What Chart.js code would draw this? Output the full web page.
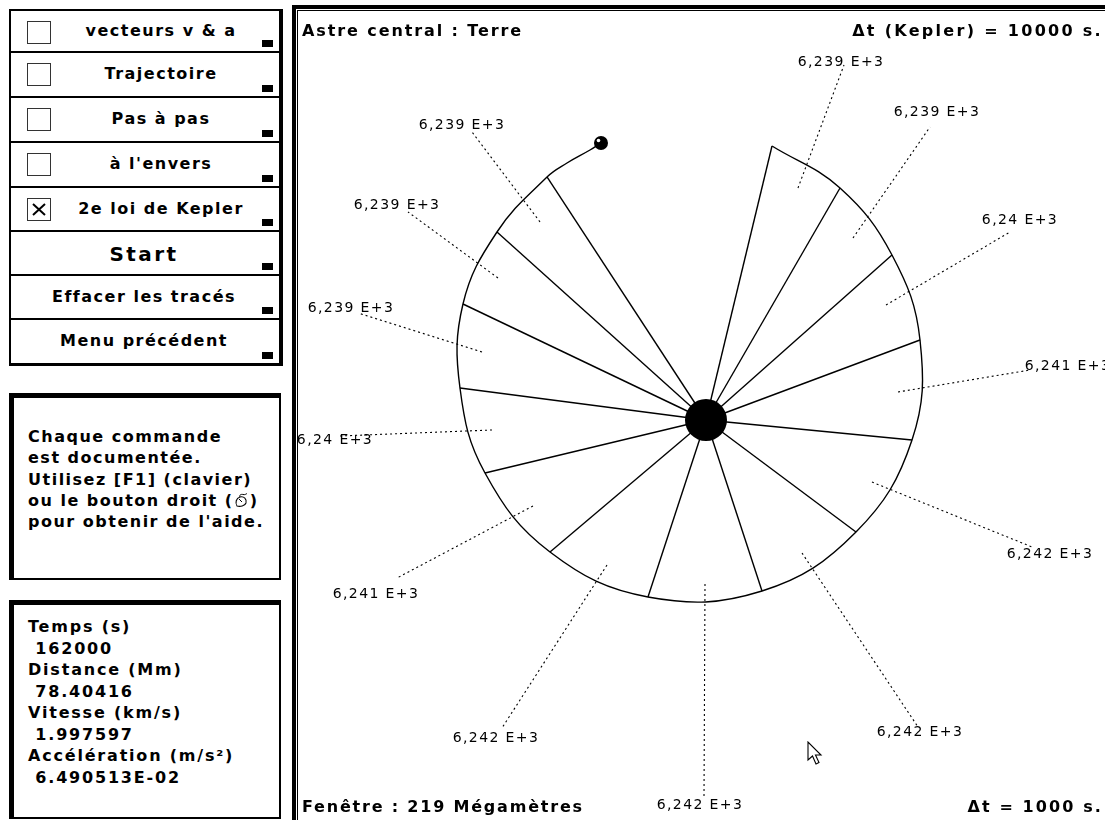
<!DOCTYPE html>
<html><head><meta charset="utf-8">
<script src="https://cdn.jsdelivr.net/npm/chart.js@4.4.0/dist/chart.umd.min.js"></script>
<style>
html,body{margin:0;padding:0;background:#fff;}
body{width:1105px;height:820px;position:relative;overflow:hidden;font-family:"DejaVu Sans",sans-serif;font-weight:bold;font-size:16px;color:#000;letter-spacing:1.5px;}
.abs{position:absolute;}
#menu{position:absolute;left:9px;top:9px;width:268px;height:352px;border-left:2px solid #000;border-top:2px solid #000;border-right:4px solid #000;border-bottom:3px solid #000;}
.btn{position:absolute;left:0;width:268px;box-sizing:border-box;border-bottom:2px solid #000;}
.btn.last{border-bottom:none;}
.cb{position:absolute;left:16px;top:10px;width:22px;height:21px;border:1.5px solid #333;}
.lbl{position:absolute;top:0;bottom:2px;display:flex;align-items:center;justify-content:center;white-space:nowrap;}
.sq{position:absolute;right:6px;bottom:4px;width:11px;height:7px;background:#000;}
#help{position:absolute;left:9px;top:393px;width:251px;height:152px;border-left:5px solid #000;border-top:5px solid #000;border-right:2px solid #000;border-bottom:2px solid #000;padding:28px 0 0 14px;line-height:21.3px;white-space:nowrap;}
#info{position:absolute;left:9px;top:600px;width:251px;height:201px;border-left:5px solid #000;border-top:5px solid #000;border-right:2px solid #000;border-bottom:2px solid #000;padding:11px 0 0 14px;line-height:21.5px;white-space:pre;letter-spacing:1.8px;}
#frame{position:absolute;left:292px;top:5px;width:820px;height:820px;border-left:4px solid #000;border-top:4px solid #000;}
#frame2{position:absolute;left:297px;top:10px;width:820px;height:820px;border-left:1px solid #000;border-top:1px solid #000;}
#chartWrap{position:absolute;left:298px;top:11px;width:807px;height:809px;}
.title{position:absolute;white-space:nowrap;line-height:20px;}
</style>
</head><body>

<div id="menu"></div>

<div id="help">Chaque commande<br>est documentée.<br>Utilisez [F1] (clavier)<br>ou le bouton droit (<svg width="16" height="15" viewBox="0 0 16 15" style="vertical-align:-2px"><path d="M3,13 C1,10 2,5 6,4 C10,3 13,6 12,10 C11,13 6,14 3,13 Z" fill="none" stroke="#000" stroke-width="1.1"/><path d="M6,4 C5,2 7,1 9,1.5 C11,2 12,1 13,0.5" fill="none" stroke="#000" stroke-width="1"/><path d="M5,6 L8,9" stroke="#000" stroke-width="1"/></svg>)<br>pour obtenir de l'aide.</div>

<div id="info"></div>

<div id="frame"></div>
<div id="frame2"></div>
<div id="chartWrap"><canvas id="c" width="807" height="809"></canvas></div>

<div class="title" style="left:302px;top:21px;letter-spacing:1.9px;">Astre central : Terre</div>
<div class="title" style="right:2px;top:21px;letter-spacing:2.3px;">Δt (Kepler) = 10000 s.</div>
<div class="title" style="left:302px;top:797px;letter-spacing:1.8px;">Fenêtre : 219 Mégamètres</div>
<div class="title" style="right:2px;top:797px;letter-spacing:2.1px;">Δt = 1000 s.</div>

<svg class="abs" style="left:807px;top:741px;" width="18" height="26" viewBox="0 0 18 26">
<path d="M1,1 L1,19 L5.5,15 L9,23 L12,21.5 L8.5,14 L14,14 Z" fill="#fff" stroke="#000" stroke-width="1.1" stroke-linejoin="miter"/>
</svg>

<script>
// ---- menu / panel text ----
const menuLabels = ["vecteurs v & a","Trajectoire","Pas à pas","à l'envers","2e loi de Kepler","Start","Effacer les tracés","Menu précédent"];
const menuHasBox = [true,true,true,true,true,false,false,false];
const menuChecked = [false,false,false,false,true,false,false,false];
const infoLabels = ["Temps (s)","Distance (Mm)","Vitesse (km/s)","Accélération (m/s²)"];
const infoValues = ["162000","78.40416","1.997597","6.490513E-02"];

// ---- orbit data (Mm, Earth at origin) ----
// sector boundary points on the orbit (radius vectors)
const boundaryX = [17.84, 36.22, 50.27, 57.84, 55.68, 40.54, 15.14, -15.68, -42.16, -59.73, -66.49, -65.68, -56.49, -42.97];
const boundaryY = [74.05, 62.70, 44.59, 21.62, -5.41, -30.27, -46.22, -47.84, -35.68, -14.32, 8.65, 31.35, 50.81, 65.68];
// trajectory after last boundary up to the satellite
const trailX = [-37.57, -31.35];
const trailY = [69.46, 72.97];
const satellite = {x: -28.38, y: 74.86};
const earth = {x: 0, y: 0};

// swept areas of each sector (units: Mm², labels "x,xxx E+3")
const sectorAreas = [6239, 6239, 6240, 6241, 6242, 6242, 6242, 6242, 6241, 6240, 6239, 6239, 6239];
// dotted leader lines: inner point (inside sector) and outer point (at label)
const leaderInX = [24.86, 39.73, 48.65, 51.89, 44.86, 25.95, -0.27, -26.76, -46.76, -57.84, -60.54, -56.22, -44.86];
const leaderInY = [62.70, 49.19, 31.08, 7.57, -16.76, -35.95, -44.32, -39.19, -23.24, -2.70, 18.38, 38.38, 53.51];
const leaderOutX = [37.30, 60.54, 82.16, 87.57, 88.11, 57.30, -0.54, -55.14, -83.51, -98.92, -94.05, -80.54, -63.24];
const leaderOutY = [95.95, 79.19, 50.81, 13.51, -34.32, -82.97, -102.16, -83.24, -42.70, -4.32, 28.92, 56.22, 77.84];
// label centers
const labelX = [36.49, 62.43, 84.86, 97.84, 92.97, 57.84, -1.62, -56.76, -89.19, -100.27, -95.95, -83.51, -65.95];
const labelY = [96.76, 83.24, 54.05, 14.59, -36.22, -84.32, -104.05, -85.95, -47.03, -5.41, 30.27, 58.11, 79.73];

// axis window (Mm)
const xRange = [-110.27, 107.84];
const yRange = [-108.11, 110.54];

// ---- build menu ----
const menu = document.getElementById('menu');
const tops = [0, 42, 87, 132, 177, 221, 265, 309, 352];
menuLabels.forEach((t, i) => {
  const b = document.createElement('div');
  b.className = 'btn' + (i === menuLabels.length - 1 ? ' last' : '');
  b.style.top = tops[i] + 'px';
  b.style.height = (tops[i+1] - tops[i]) + 'px';
  if (menuHasBox[i]) {
    const cb = document.createElement('div');
    cb.className = 'cb';
    if (menuChecked[i]) cb.innerHTML = '<svg width="22" height="21" style="position:absolute;left:0;top:0"><path d="M5,5 L17,16 M17,5 L5,16" stroke="#000" stroke-width="2"/></svg>';
    b.appendChild(cb);
  }
  const l = document.createElement('div');
  l.className = 'lbl';
  l.textContent = t;
  if (menuHasBox[i]) { l.style.left = '52px'; l.style.right = '20px'; }
  else { l.style.left = '0px'; l.style.right = '2px'; }
  if (t === 'Start') { l.style.fontSize = '20px'; l.style.letterSpacing = '2.4px'; l.style.paddingTop = '4px'; }
  b.appendChild(l);
  const sq = document.createElement('div');
  sq.className = 'sq';
  b.appendChild(sq);
  menu.appendChild(b);
});

// ---- info box ----
document.getElementById('info').textContent =
  infoLabels.map((l, i) => l + '\n ' + infoValues[i]).join('\n');

// ---- chart ----
const fmtArea = v => (v / 1000).toString().replace('.', ',') + ' E+3';
const datasets = [];

// orbit / trajectory
const orbitPts = boundaryX.map((x, i) => ({x, y: boundaryY[i]}))
  .concat(trailX.map((x, i) => ({x, y: trailY[i]})))
  .concat([satellite]);
datasets.push({data: orbitPts, showLine: true, borderColor: '#000', borderWidth: 1.4,
  tension: 0.4, pointRadius: 0, fill: false});

// radius vectors
boundaryX.forEach((x, i) => {
  datasets.push({data: [earth, {x, y: boundaryY[i]}], showLine: true, borderColor: '#000',
    borderWidth: 1.4, pointRadius: 0, tension: 0});
});

// dotted leaders
leaderInX.forEach((x, i) => {
  datasets.push({data: [{x, y: leaderInY[i]}, {x: leaderOutX[i], y: leaderOutY[i]}], showLine: true,
    borderColor: '#000', borderWidth: 1.1, borderDash: [2, 3], pointRadius: 0, tension: 0});
});

// central body
datasets.push({data: [earth], pointRadius: 21, pointBackgroundColor: '#000', pointBorderColor: '#000',
  pointBorderWidth: 0, showLine: false});
// satellite
datasets.push({data: [satellite], pointRadius: 7, pointBackgroundColor: '#000', pointBorderColor: '#000',
  pointBorderWidth: 0, showLine: false});

const labelPlugin = {
  id: 'areaLabels',
  afterDatasetsDraw(chart) {
    const {ctx, scales: {x, y}} = chart;
    ctx.save();
    ctx.font = '14px "DejaVu Sans"';
    try { ctx.letterSpacing = '1.4px'; } catch (e) {}
    ctx.textAlign = 'center';
    ctx.textBaseline = 'middle';
    ctx.fillStyle = '#000';
    sectorAreas.forEach((v, i) => {
      ctx.fillText(fmtArea(v), x.getPixelForValue(labelX[i]), y.getPixelForValue(labelY[i]));
    });
    // satellite highlight
    const sx = x.getPixelForValue(satellite.x), sy = y.getPixelForValue(satellite.y);
    ctx.fillStyle = '#fff';
    ctx.beginPath();
    ctx.arc(sx - 2.5, sy - 2.5, 1.8, 0, Math.PI * 2);
    ctx.fill();
    ctx.restore();
  }
};

new Chart(document.getElementById('c'), {
  type: 'scatter',
  data: {datasets},
  options: {
    responsive: false,
    animation: false,
    devicePixelRatio: 1,
    layout: {padding: 0, autoPadding: false},
    plugins: {legend: {display: false}, tooltip: {enabled: false}},
    events: [],
    scales: {
      x: {type: 'linear', display: false, min: xRange[0], max: xRange[1]},
      y: {type: 'linear', display: false, min: yRange[0], max: yRange[1]}
    }
  },
  plugins: [labelPlugin]
});
</script>
</body></html>
